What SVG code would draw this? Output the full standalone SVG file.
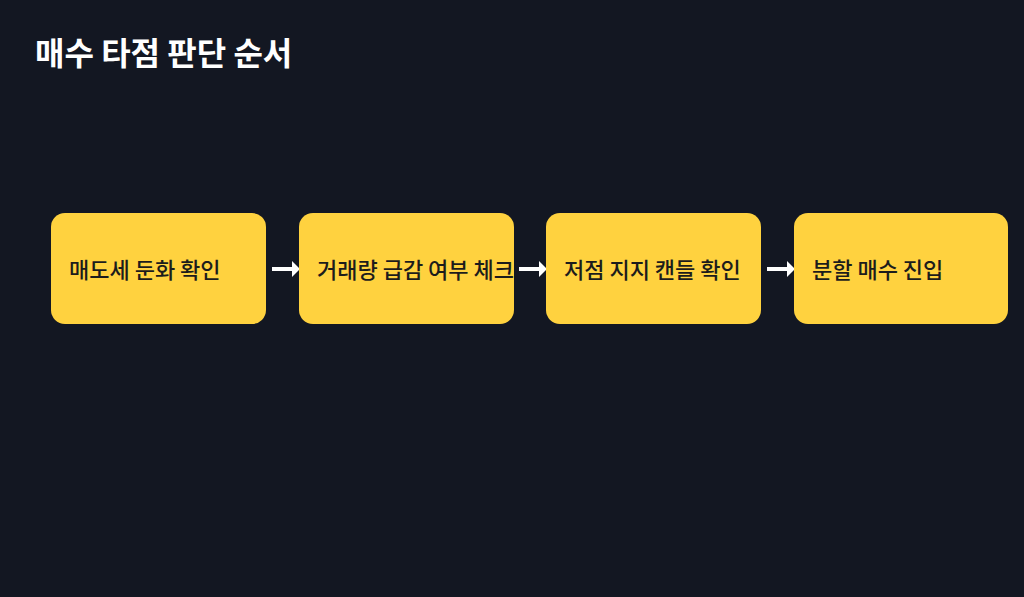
<svg xmlns="http://www.w3.org/2000/svg" width="1024" height="597" viewBox="0 0 1024 597">
<defs>
<style>
.box{fill:#FFD23F;}
.lbl{font-family:"Noto Sans CJK KR","Noto Sans",sans-serif;font-size:22px;font-weight:500;fill:#1c1c1c;}
.title{font-family:"Noto Sans CJK KR","Noto Sans",sans-serif;font-size:32px;font-weight:700;fill:#ffffff;}
.edge{stroke:#ffffff;stroke-width:4;fill:none;}
</style>
<marker id="ah" viewBox="0 0 8 16" refX="0" refY="8" markerWidth="8" markerHeight="16" markerUnits="userSpaceOnUse" orient="auto">
<path d="M0,0 L8,8 L0,16 Z" fill="#ffffff"/>
</marker>
</defs>
<rect width="1024" height="597" fill="#131722"/>
<text class="title" x="35" y="65">매수 타점 판단 순서</text>
<g id="connectors">
<line class="edge" x1="272" y1="269" x2="292" y2="269" marker-end="url(#ah)"/>
<line class="edge" x1="519" y1="269" x2="539" y2="269" marker-end="url(#ah)"/>
<line class="edge" x1="767" y1="269" x2="787" y2="269" marker-end="url(#ah)"/>
</g>
<g id="node1">
<rect class="box" x="51" y="213" width="215" height="111" rx="14"/>
<text class="lbl" x="69" y="278">매도세 둔화 확인</text>
</g>
<g id="node2">
<rect class="box" x="299" y="213" width="215" height="111" rx="14"/>
<text class="lbl" x="317" y="278">거래량 급감 여부 체크</text>
</g>
<g id="node3">
<rect class="box" x="546" y="213" width="215" height="111" rx="14"/>
<text class="lbl" x="564" y="278">저점 지지 캔들 확인</text>
</g>
<g id="node4">
<rect class="box" x="794" y="213" width="214" height="111" rx="14"/>
<text class="lbl" x="812" y="278">분할 매수 진입</text>
</g>
</svg>
